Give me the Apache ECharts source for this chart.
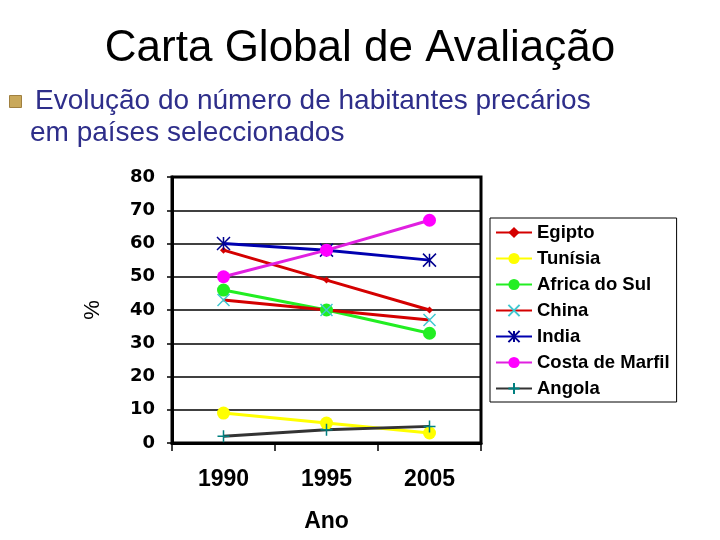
<!DOCTYPE html>
<html>
<head>
<meta charset="utf-8">
<script src="https://cdn.jsdelivr.net/npm/echarts@6/dist/echarts.min.js"></script>
<style>
  html, body { margin: 0; padding: 0; background: #fff; }
  #main { width: 720px; height: 540px; }
</style>
</head>
<body>
<div id="main"></div>
<script>
// dados
var anos = ['1990', '1995', '2005'];
var egipto = [58, 49, 40];
var tunisia = [9, 6, 3];
var africaSul = [46, 40, 33];
var china = [43, 40, 37];
var india = [60, 58, 55];
var costaMarfil = [50, 58, 67];
var angola = [2, 4, 5];

var myChart = echarts.init(document.getElementById('main'));

function serie(nome, dados, corLinha, simbolo, tam, estiloItem) {
    return {
        name: nome,
        type: 'line',
        data: dados,
        symbol: simbolo,
        symbolSize: tam,
        showAllSymbol: true,
        lineStyle: { color: corLinha, width: 3 },
        itemStyle: estiloItem,
        emphasis: { disabled: true }
    };
}

var option = {
    backgroundColor: '#ffffff',
    animation: false,
    title: {
        text: 'Carta Global de Avaliação',
        left: 'center',
        top: 22,
        textStyle: {
            fontFamily: 'Liberation Sans',
            fontSize: 44,
            fontWeight: 'normal',
            color: '#000000'
        }
    },
    graphic: [
        {
            type: 'rect',
            left: 9, top: 95,
            shape: { width: 12, height: 12 },
            style: { fill: '#c9a85a', stroke: '#a08040', lineWidth: 1 }
        },
        {
            type: 'text',
            x: 35, y: 101,
            style: {
                text: 'Evolução do número de habitantes precários',
                font: '28px "Liberation Sans"',
                fill: '#2e2e8a',
                verticalAlign: 'middle'
            }
        },
        {
            type: 'text',
            x: 30, y: 133,
            style: {
                text: 'em países seleccionados',
                font: '28px "Liberation Sans"',
                fill: '#2e2e8a',
                verticalAlign: 'middle'
            }
        }
    ],
    legend: {
        orient: 'vertical',
        left: 490,
        top: 218,
        backgroundColor: '#ffffff',
        borderColor: '#000000',
        borderWidth: 1,
        padding: [5, 7, 4, 5],
        itemWidth: 36,
        itemHeight: 14,
        itemGap: 7,
        textStyle: {
            fontFamily: 'Liberation Sans',
            fontWeight: 'bold',
            fontSize: 18.5,
            color: '#000000'
        },
        data: ['Egipto', 'Tunísia', 'Africa do Sul', 'China', 'India', 'Costa de Marfil', 'Angola']
    },
    grid: {
        left: 172,
        top: 177,
        width: 309,
        height: 266,
        show: true,
        borderColor: '#000000',
        borderWidth: 3,
        containLabel: false
    },
    xAxis: {
        type: 'category',
        data: anos,
        boundaryGap: true,
        name: 'Ano',
        nameLocation: 'middle',
        nameGap: 67,
        nameTextStyle: {
            fontFamily: 'Liberation Sans',
            fontWeight: 'bold',
            fontSize: 23,
            color: '#000000'
        },
        axisLine: { lineStyle: { color: '#000000', width: 3 } },
        axisTick: { show: true, inside: false, length: 8, lineStyle: { color: '#000000', width: 1.5 } },
        axisLabel: {
            margin: 25,
            fontFamily: 'Liberation Sans',
            fontWeight: 'bold',
            fontSize: 23,
            color: '#000000'
        }
    },
    yAxis: {
        type: 'value',
        min: 0,
        max: 80,
        interval: 10,
        name: '%',
        nameLocation: 'middle',
        nameGap: 68,
        nameTextStyle: {
            fontFamily: 'Liberation Sans',
            fontSize: 22,
            color: '#000000'
        },
        axisLine: { show: true, lineStyle: { color: '#000000', width: 3 } },
        axisTick: { show: true, length: 5, lineStyle: { color: '#000000', width: 1.5 } },
        splitLine: { show: true, lineStyle: { color: '#000000', width: 1.5 } },
        axisLabel: {
            margin: 17,
            fontFamily: 'DejaVu Sans',
            fontWeight: 'bold',
            fontSize: 18,
            color: '#000000'
        }
    },
    series: [
        serie('Egipto', egipto, '#d40000', 'diamond', 7, { color: '#d40000' }),
        serie('Tunísia', tunisia, '#ffff00', 'circle', 13, { color: '#ffff00' }),
        serie('Africa do Sul', africaSul, '#22ee22', 'circle', 13, { color: '#22ee22' }),
        serie('China', china, '#d40000', 'path://M0,0L10,10M10,0L0,10', 12,
            { color: 'transparent', borderColor: '#40c8d0', borderWidth: 1.5 }),
        serie('India', india, '#0000b0', 'path://M0,0L10,10M10,0L0,10M5,0L5,10', 13,
            { color: 'transparent', borderColor: '#000090', borderWidth: 1.5 }),
        serie('Costa de Marfil', costaMarfil, '#e020e0', 'circle', 13, { color: '#ff00ff' }),
        serie('Angola', angola, '#333333', 'path://M5,0L5,10M0,5L10,5', 12,
            { color: 'transparent', borderColor: '#008080', borderWidth: 1.5 })
    ]
};

myChart.setOption(option);
</script>
</body>
</html>
